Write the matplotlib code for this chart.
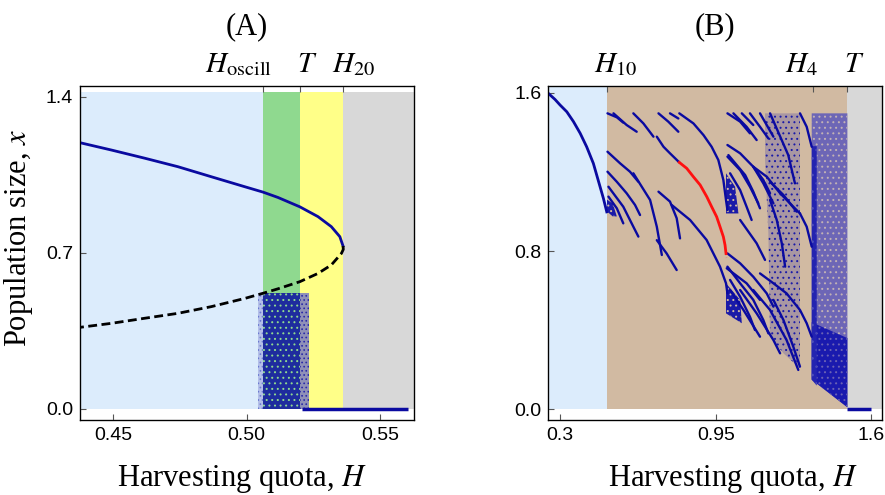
import matplotlib
matplotlib.use("Agg")
import matplotlib.pyplot as plt

plt.rcParams['font.family'] = ['Liberation Serif', 'DejaVu Serif']
plt.rcParams['mathtext.fontset'] = 'stix'
plt.rcParams['hatch.linewidth'] = 0.7

BLUE = '#0a0aa0'

# ---------------- panel A data ----------------
A_edges = [0.4375, 0.5062, 0.5200, 0.5359, 0.5627]
A_fill = ['#dcecfc', '#8fd98f', '#ffff88', '#d8d8d8']
A_top = 1.42
A_boundary_ticks = [0.5062, 0.5200, 0.5359]

A_upper_H = [0.4374, 0.4492, 0.4618, 0.4742, 0.4867, 0.4993, 0.5061, 0.5117, 0.5199,
             0.5267, 0.5317, 0.5349, 0.5361]
A_upper_x = [1.194, 1.161, 1.124, 1.086, 1.041, 0.996, 0.972, 0.948, 0.906,
             0.862, 0.817, 0.772, 0.730]
A_lower_H = [0.5361, 0.5362, 0.5355, 0.5317, 0.5267, 0.5199, 0.5117, 0.5061, 0.4993, 0.4867,
             0.4742, 0.4618, 0.4492, 0.4374]
A_lower_x = [0.730, 0.715, 0.697, 0.645, 0.607, 0.570, 0.538, 0.518, 0.495, 0.458,
             0.428, 0.406, 0.383, 0.365]

A_cloud_faint = [0.5043, 0.5062]
A_cloud_dense = [0.5062, 0.5200]
A_cloud_sparse = [0.5200, 0.5235]
A_cloud_top = 0.517
A_ground = [0.5207, 0.5605]

# ---------------- panel B data ----------------
B_edges = [0.251, 0.495, 1.500, 1.646]
B_fill = ['#dcecfc', '#d1baa2', '#d8d8d8']
B_top = 1.63
B_boundary_ticks = [0.495, 1.358, 1.500]

B_stable_H = [0.251, 0.279, 0.300, 0.328, 0.356, 0.384, 0.411, 0.439, 0.467, 0.481, 0.495]
B_stable_x = [1.597, 1.566, 1.538, 1.504, 1.454, 1.395, 1.327, 1.243, 1.125, 1.066, 0.998]

B_red_H = [0.798, 0.829, 0.857, 0.885, 0.913, 0.933, 0.954, 0.968, 0.982, 0.989, 0.993]
B_red_x = [1.248, 1.218, 1.175, 1.134, 1.074, 1.024, 0.973, 0.923, 0.872, 0.830, 0.788]
B_red_tail_H = [0.993, 0.995]
B_red_tail_x = [0.788, 0.765]

B_streaks = [
    ([0.498, 0.537, 0.564], [1.496, 1.476, 1.449]),
    ([0.523, 0.578, 0.620], [1.496, 1.437, 1.403]),
    ([0.606, 0.648, 0.690], [1.496, 1.445, 1.378]),
    ([0.711, 0.752, 0.794], [1.496, 1.454, 1.403]),
    ([0.759, 0.794], [1.496, 1.470]),
    ([0.798, 0.857, 0.899, 0.933, 0.961, 0.982, 0.993, 0.999],
     [1.496, 1.445, 1.386, 1.327, 1.260, 1.159, 1.058, 1.007]),
    ([0.704, 0.732, 0.759, 0.798], [1.378, 1.327, 1.294, 1.248]),
    ([0.498, 0.551, 0.592, 0.627], [1.302, 1.243, 1.201, 1.150]),
    ([0.498, 0.537, 0.578, 0.613, 0.634], [1.201, 1.150, 1.092, 1.033, 0.982]),
    ([0.502, 0.564, 0.606, 0.627], [1.125, 1.024, 0.923, 0.873]),
    ([0.502, 0.537, 0.564], [1.075, 1.016, 0.940]),
    ([0.606, 0.676, 0.704, 0.725], [1.193, 1.058, 0.923, 0.780]),
    ([0.704, 0.745, 0.787], [0.855, 0.788, 0.704]),
    ([0.711, 0.759, 0.787, 0.801], [1.100, 1.050, 0.966, 0.864]),
    ([0.766, 0.843, 0.912, 0.968, 0.993, 0.999], [1.033, 0.957, 0.856, 0.721, 0.637, 0.586]),
    ([0.999, 1.052, 1.093], [1.496, 1.454, 1.395]),
    ([1.024, 1.079, 1.121], [1.496, 1.428, 1.361]),
    ([1.059, 1.107], [1.496, 1.437]),
    ([1.093, 1.135, 1.170], [1.496, 1.428, 1.369]),
    ([1.135, 1.191], [1.496, 1.378]),
    ([1.177, 1.253, 1.281], [1.496, 1.285, 1.142]),
    ([1.302, 1.330, 1.351], [1.496, 1.428, 1.327]),
    ([0.999, 1.052, 1.107, 1.149, 1.177], [1.336, 1.294, 1.226, 1.159, 1.092]),
    ([1.003, 1.073, 1.107, 1.135], [1.285, 1.184, 1.100, 1.016]),
    ([0.999, 1.052, 1.093, 1.128], [1.277, 1.209, 1.125, 1.041]),
    ([1.010, 1.052, 1.079, 1.100], [1.193, 1.108, 1.024, 0.957]),
    ([1.107, 1.149, 1.191], [1.226, 1.142, 1.041]),
    ([1.107, 1.163, 1.219, 1.274, 1.302], [1.226, 1.176, 1.092, 1.024, 0.990]),
    ([1.177, 1.233, 1.288], [1.150, 1.083, 0.999]),
    ([1.052, 1.121, 1.156], [0.957, 0.839, 0.755]),
    ([1.177, 1.205, 1.226, 1.240], [1.058, 0.957, 0.839, 0.721]),
    ([1.302, 1.330, 1.351], [0.990, 0.923, 0.822]),
    ([0.999, 1.052, 1.107, 1.163, 1.191], [0.788, 0.738, 0.670, 0.586, 0.519]),
    ([0.996, 1.079, 1.135], [0.713, 0.637, 0.553]),
    ([0.999, 1.052, 1.107, 1.149, 1.170], [0.721, 0.637, 0.553, 0.451, 0.384]),
    ([1.010, 1.066, 1.135], [0.603, 0.502, 0.367]),
    ([1.052, 1.121, 1.191, 1.219], [0.603, 0.485, 0.350, 0.283]),
    ([1.107, 1.177, 1.246, 1.295], [0.603, 0.502, 0.350, 0.199]),
    ([1.010, 1.052, 1.093, 1.114], [0.654, 0.569, 0.468, 0.401]),
    ([1.135, 1.191, 1.246, 1.302, 1.330, 1.351], [0.687, 0.637, 0.586, 0.502, 0.435, 0.367]),
    ([1.191, 1.233, 1.274, 1.302], [0.553, 0.451, 0.317, 0.216]),
]

B_patches = [
    ([0.496, 0.520, 0.537, 0.520, 0.496], [1.06, 1.04, 0.975, 0.975, 1.00]),
    ([0.993, 1.031, 1.045, 0.993], [1.193, 1.125, 0.990, 0.990]),
    ([0.993, 1.052, 1.059, 0.993], [0.637, 0.553, 0.435, 0.485]),
]

B_stipple_H = [1.156, 1.302, 1.302, 1.233, 1.177, 1.170, 1.156]
B_stipple_x = [1.496, 1.496, 0.207, 0.283, 0.367, 0.889, 1.260]

B_cloud_H = [1.351, 1.500, 1.500, 1.351]
B_cloud_x = [1.496, 1.496, 0.010, 0.150]
B_cloud_band_H = [1.351, 1.372, 1.372, 1.351]
B_cloud_band_x = [1.330, 1.330, 0.120, 0.150]
B_cloud_low_H = [1.351, 1.500, 1.500, 1.351]
B_cloud_low_x = [0.440, 0.360, 0.010, 0.150]
B_ground = [1.500, 1.600]


def shade(ax, edges, colors, top):
    for i, c in enumerate(colors):
        ax.fill_between([edges[i], edges[i + 1]], 0, top, color=c, lw=0, zorder=0)


def frame(ax):
    for s in ax.spines.values():
        s.set_color('#555555')
        s.set_linewidth(1.0)
    ax.tick_params(direction='in', length=4, color='#555555', labelsize=14, pad=5)
    for lab in ax.get_xticklabels() + ax.get_yticklabels():
        lab.set_family('Liberation Sans')


fig = plt.figure(figsize=(8.85, 4.95), dpi=100)

# ---------------- panel A ----------------
ax = fig.add_axes([0.0904, 0.1515, 0.3774, 0.6747])
shade(ax, A_edges, A_fill, A_top)
ax.fill_between(A_cloud_faint, 0, A_cloud_top, facecolor='#b4bfe8', edgecolor='#6a78d0',
                hatch='....', lw=0, zorder=1)
ax.fill_between(A_cloud_dense, 0, A_cloud_top, facecolor='#1e2c9e', edgecolor='#8fd98f',
                hatch='...', lw=0, zorder=1)
ax.fill_between(A_cloud_sparse, 0, A_cloud_top, facecolor='#8f90b8', edgecolor='#2a2aa8',
                hatch='....', lw=0, zorder=1)
ax.plot(A_upper_H, A_upper_x, color=BLUE, lw=2, zorder=3)
ax.plot(A_lower_H, A_lower_x, color='black', lw=2, ls=(0, (3.2, 1.6)), zorder=3)
ax.plot(A_ground, [0, 0], color=BLUE, lw=2.5, zorder=3, solid_capstyle='butt')
ax.set_xlim(A_edges[0], A_edges[-1])
ax.set_ylim(-0.0507, 1.448)
ax.set_xticks([0.45, 0.50, 0.55], ['0.45', '0.50', '0.55'])
ax.set_yticks([0.0, 0.7, 1.4], ['0.0', '0.7', '1.4'])
frame(ax)
ax.set_ylabel('Population size, $x$', fontsize=22)
ax.yaxis.set_label_coords(-0.135, 0.546)
ax.set_xlabel('Harvesting quota, $H$', fontsize=22)
ax.xaxis.set_label_coords(0.484, -0.129)
axt = ax.twiny()
axt.set_xlim(ax.get_xlim())
axt.set_xticks(A_boundary_ticks, ['', '', ''])
axt.tick_params(direction='in', length=4, color='#555555')
for lab, hx in zip([r'$H_{\mathrm{oscill}}$', r'$T$', r'$H_{20}$'], [0.4971, 0.5226, 0.5402]):
    ax.text(hx, 1.063, lab, transform=ax.get_xaxis_transform(), ha='center', va='center',
            fontsize=21)
fig.text(247 / 885, 1 - 27 / 495, '(A)', ha='center', va='center', fontsize=22)

# ---------------- panel B ----------------
bx = fig.add_axes([0.6196, 0.1515, 0.3774, 0.6747])
shade(bx, B_edges, B_fill, B_top)
bx.fill(B_stipple_H, B_stipple_x, facecolor='#a997a2', edgecolor='#1a1aa8', hatch='...',
        lw=0, zorder=1)
bx.fill(B_cloud_H, B_cloud_x, facecolor='#6d66b6', edgecolor='#c2b2b4', hatch='...',
        lw=0, zorder=1)
bx.fill(B_cloud_low_H, B_cloud_low_x, facecolor='#1a1aae', edgecolor='#6a62b4', hatch='...',
        lw=0, zorder=1)
bx.fill(B_cloud_band_H, B_cloud_band_x, facecolor='#2424b0', edgecolor='#5050bc', hatch='..',
        lw=0, zorder=1)
for ph, px in B_patches:
    bx.fill(ph, px, facecolor='#1a1aa8', edgecolor='#d1baa2', hatch='...', lw=0, zorder=2)
for sh, sx in B_streaks:
    bx.plot(sh, sx, color=BLUE, lw=1.7, zorder=3, solid_capstyle='round')
bx.plot(B_stable_H, B_stable_x, color=BLUE, lw=2, zorder=3)
bx.plot(B_red_H, B_red_x, color='#ff1010', lw=2, zorder=4)
bx.plot(B_red_tail_H, B_red_tail_x, color='#ff1010', lw=1.2, ls=':', zorder=4)
bx.plot(B_ground, [0, 0], color=BLUE, lw=2.5, zorder=3, solid_capstyle='butt')
bx.set_xlim(B_edges[0], B_edges[-1])
bx.set_ylim(-0.054, 1.634)
bx.set_xticks([0.3, 0.95, 1.6], ['0.3', '0.95', '1.6'])
bx.set_yticks([0.0, 0.8, 1.6], ['0.0', '0.8', '1.6'])
frame(bx)
bx.set_xlabel('Harvesting quota, $H$', fontsize=22)
bx.xaxis.set_label_coords(0.553, -0.129)
bxt = bx.twiny()
bxt.set_xlim(bx.get_xlim())
bxt.set_xticks(B_boundary_ticks, ['', '', ''])
bxt.tick_params(direction='in', length=4, color='#555555')
for lab, hx in zip([r'$H_{10}$', r'$H_4$', r'$T$'], [0.530, 1.309, 1.528]):
    bx.text(hx, 1.063, lab, transform=bx.get_xaxis_transform(), ha='center', va='center',
            fontsize=21)
fig.text(715 / 885, 1 - 27 / 495, '(B)', ha='center', va='center', fontsize=22)

fig.savefig('out.png', dpi=100)
